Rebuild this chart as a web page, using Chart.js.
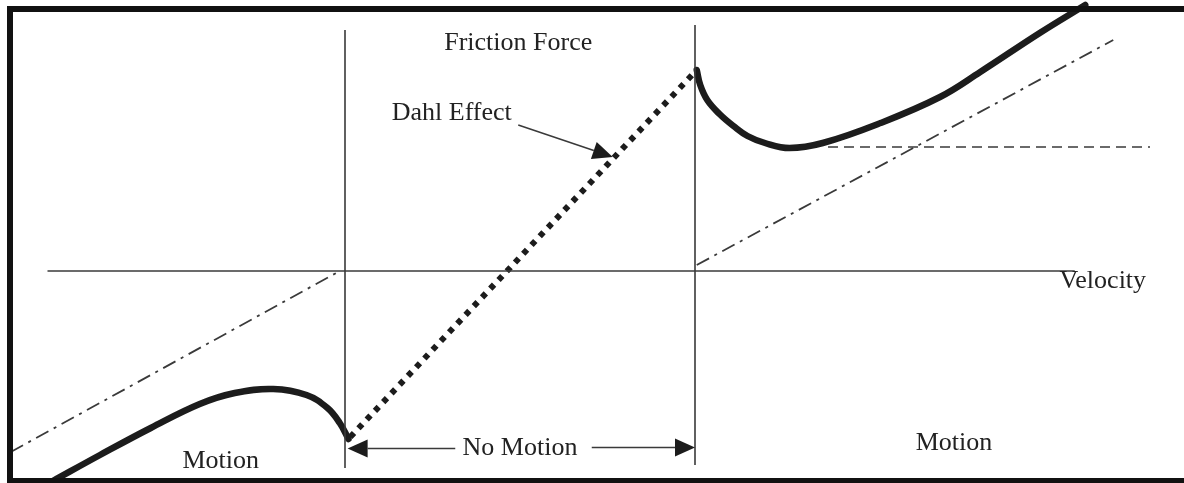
<!DOCTYPE html>
<html>
<head>
<meta charset="utf-8">
<script src="https://cdn.jsdelivr.net/npm/chart.js@4/dist/chart.umd.min.js"></script>
<style>
 html, body { margin: 0; padding: 0; background: #fff; }
 #wrap { width: 1184px; height: 483px; position: relative; }
</style>
</head>
<body>
<div id="wrap"><canvas id="friction-chart"></canvas></div>
<script>
// velocity on x, friction force on y (1 unit of velocity = half the no motion band)
var velocityLeft = [-2.67, -2.40, -2.11, -1.83, -1.63, -1.41, -1.22, -1.10, -1.03, -0.98];
var forceLeft = [-2.10, -1.84, -1.57, -1.33, -1.22, -1.18, -1.24, -1.37, -1.52, -1.68];

var velocityRight = [1.01, 1.03, 1.07, 1.14, 1.22, 1.30, 1.40, 1.54, 1.73, 2.06, 2.40, 2.63, 2.97, 3.23];
var forceRight = [2.01, 1.86, 1.71, 1.57, 1.45, 1.35, 1.28, 1.23, 1.28, 1.48, 1.74, 1.99, 2.38, 2.66];

var velocityDahl = [-0.97, 1.01];
var forceDahl = [-1.66, 2.01];

var velocityViscousLeft = [-2.91, -1.03];
var forceViscousLeft = [-1.81, 0];
var velocityViscousRight = [1.01, 3.39];
var forceViscousRight = [0.06, 2.31];

var velocityCoulomb = [1.76, 3.60];
var forceCoulomb = [1.24, 1.24];

var velocityAxis = [-2.70, 3.17];
var forceAxis = [0, 0];

var stickVelocity = [-1, 1];
var stickTop = [2.41, 2.46];
var stickBottom = [-1.97, -1.94];

var labelTexts = ["Friction Force", "Dahl Effect", "Velocity", "Motion", "No Motion", "Motion"];
var labelVelocity = [-0.01, -0.39, 3.33, -1.71, 0.0, 2.48];
var labelForce = [2.21, 1.51, -0.17, -1.97, -1.84, -1.79];

// arrows: [fromV, fromF, toV, toF]
var arrows = [
 [-0.01, 1.46, 0.53, 1.14],
 [-0.37, -1.775, -0.985, -1.775],
 [0.41, -1.765, 1.0, -1.765],
];

var ink = "#1c1c1c";
var thin = "#3a3a3a";

function pts(xs, ys) {
 return xs.map(function (x, i) {
  return { x: x, y: ys[i] };
 });
}

function lineSet(xs, ys, width, color, dash) {
 return {
  data: pts(xs, ys),
  showLine: true,
  borderColor: color,
  borderWidth: width,
  borderDash: dash || [],
  pointRadius: 0,
  fill: false,
 };
}

var curveLeft = lineSet(velocityLeft, forceLeft, 6.5, ink);
curveLeft.tension = 0.4;
curveLeft.borderCapStyle = "round";
var curveRight = lineSet(velocityRight, forceRight, 6.5, ink);
curveRight.tension = 0.4;
curveRight.borderCapStyle = "round";

var dahl = lineSet(velocityDahl, forceDahl, 6, ink, [5.5, 6.5]);

var datasets = [
 lineSet(velocityAxis, forceAxis, 1.6, thin),
 lineSet([stickVelocity[0], stickVelocity[0]], [stickTop[0], stickBottom[0]], 1.6, thin),
 lineSet([stickVelocity[1], stickVelocity[1]], [stickTop[1], stickBottom[1]], 1.6, thin),
 lineSet(velocityViscousLeft, forceViscousLeft, 1.8, thin, [14, 6, 3, 6]),
 lineSet(velocityViscousRight, forceViscousRight, 1.8, thin, [14, 6, 3, 6]),
 lineSet(velocityCoulomb, forceCoulomb, 1.6, thin, [10, 6]),
 dahl,
 curveLeft,
 curveRight,
];

var annotationPlugin = {
 id: "annotations",
 afterDraw: function (chart) {
  var ctx = chart.ctx;
  var xs = chart.scales.x;
  var ys = chart.scales.y;
  ctx.save();

  // labels
  ctx.fillStyle = "#222";
  ctx.font = "26px 'Liberation Serif', 'Times New Roman', serif";
  ctx.textAlign = "center";
  ctx.textBaseline = "alphabetic";
  labelTexts.forEach(function (t, i) {
   ctx.fillText(t, xs.getPixelForValue(labelVelocity[i]), ys.getPixelForValue(labelForce[i]));
  });

  // arrows
  arrows.forEach(function (a) {
   var x0 = xs.getPixelForValue(a[0]);
   var y0 = ys.getPixelForValue(a[1]);
   var x1 = xs.getPixelForValue(a[2]);
   var y1 = ys.getPixelForValue(a[3]);
   var ang = Math.atan2(y1 - y0, x1 - x0);
   var len = 20, half = 9;
   var bx = x1 - len * Math.cos(ang);
   var by = y1 - len * Math.sin(ang);
   ctx.strokeStyle = thin;
   ctx.lineWidth = 1.6;
   ctx.beginPath();
   ctx.moveTo(x0, y0);
   ctx.lineTo(bx, by);
   ctx.stroke();
   ctx.fillStyle = ink;
   ctx.beginPath();
   ctx.moveTo(x1, y1);
   ctx.lineTo(bx + half * Math.sin(ang), by - half * Math.cos(ang));
   ctx.lineTo(bx - half * Math.sin(ang), by + half * Math.cos(ang));
   ctx.closePath();
   ctx.fill();
  });

  // figure frame
  ctx.strokeStyle = "#111";
  ctx.lineWidth = 6;
  ctx.strokeRect(10, 9, 1200, 472);
  ctx.restore();
 },
};

var ctx = document.getElementById("friction-chart");

new Chart(ctx, {
 type: "scatter",
 data: { datasets: datasets },
 options: {
  responsive: true,
  maintainAspectRatio: false,
  animation: false,
  layout: { padding: 0 },
  plugins: {
   legend: { display: false },
   tooltip: { enabled: false },
  },
  scales: {
   x: { type: "linear", min: -520 / 175, max: 664 / 175, display: false },
   y: { type: "linear", min: -2.12, max: 2.71, display: false },
  },
 },
 plugins: [annotationPlugin],
});
</script>
</body>
</html>
